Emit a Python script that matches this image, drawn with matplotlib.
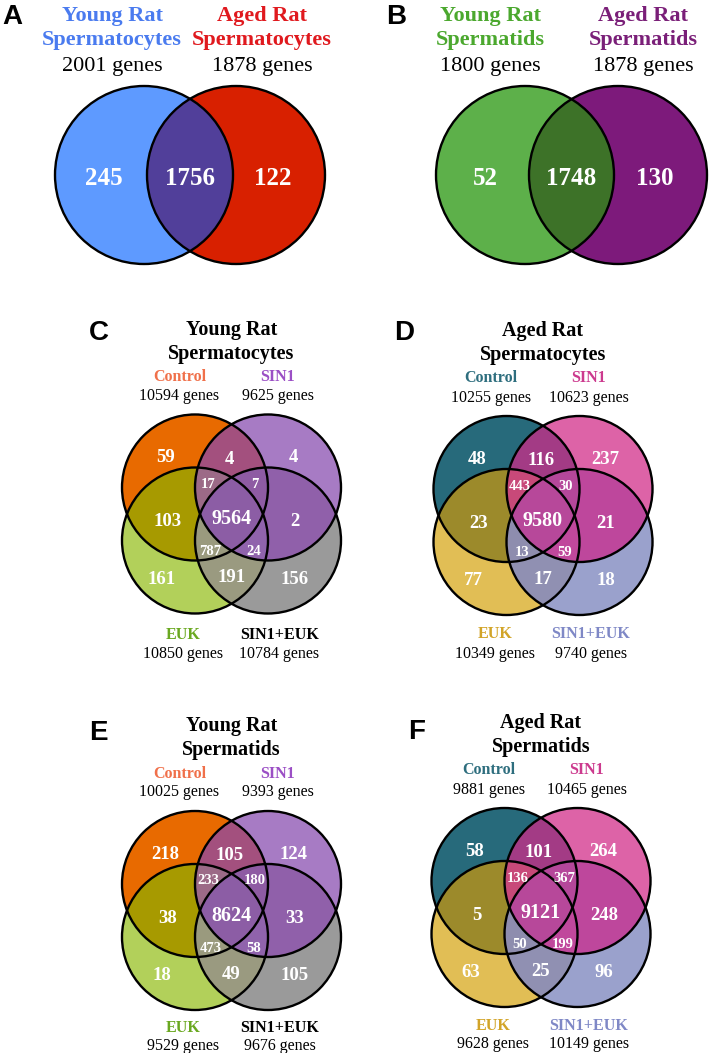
import numpy as np
import matplotlib
matplotlib.use("Agg")
from matplotlib import pyplot as plt
from matplotlib.patches import Circle
from matplotlib.colors import to_rgba

SERIF = ["Liberation Serif", "DejaVu Serif"]
SANS = ["Liberation Sans", "DejaVu Sans"]

### DATA ###
# two-way panels (A, B)
a_titles = ["Young Rat\nSpermatocytes", "Aged Rat\nSpermatocytes"]
a_totals = [2001, 1878]
a_counts = [245, 1756, 122]          # left only, both, right only

b_titles = ["Young Rat\nSpermatids", "Aged Rat\nSpermatids"]
b_totals = [1800, 1878]
b_counts = [52, 1748, 130]

# four-way panels (C-F); region key = bitmask (1 Control, 2 SIN1, 4 EUK, 8 SIN1+EUK)
groups = ["Control", "SIN1", "EUK", "SIN1+EUK"]

c_title = "Young Rat\nSpermatocytes"
c_totals = [10594, 9625, 10850, 10784]
c_counts = {1: 59, 3: 4, 2: 4, 7: 17, 11: 7, 5: 103, 15: 9564, 10: 2,
            13: 787, 14: 24, 4: 161, 12: 191, 8: 156}

d_title = "Aged Rat\nSpermatocytes"
d_totals = [10255, 10623, 10349, 9740]
d_counts = {1: 48, 3: 116, 2: 237, 7: 443, 11: 30, 5: 23, 15: 9580, 10: 21,
            13: 13, 14: 59, 4: 77, 12: 17, 8: 18}

e_title = "Young Rat\nSpermatids"
e_totals = [10025, 9393, 9529, 9676]
e_counts = {1: 218, 3: 105, 2: 124, 7: 233, 11: 180, 5: 38, 15: 8624, 10: 33,
            13: 473, 14: 58, 4: 18, 12: 49, 8: 105}

f_title = "Aged Rat\nSpermatids"
f_totals = [9881, 10465, 9628, 10149]
f_counts = {1: 58, 3: 101, 2: 264, 7: 136, 11: 367, 5: 5, 15: 9121, 10: 248,
            13: 50, 14: 199, 4: 63, 12: 25, 8: 96}

### STYLE ###
young_fill = {1: "#e86a00", 2: "#a87bc5", 4: "#b3d05a", 8: "#9a9a9a",
              3: "#a3507e", 5: "#a89a00", 7: "#9c6b88", 11: "#8e5ba3",
              15: "#8c5da5", 10: "#9060aa", 13: "#9b9a7e", 14: "#9163ac",
              12: "#9a9b80", 6: "#8c5da5", 9: "#8c5da5"}
aged_fill = {1: "#276b7b", 2: "#dd63a8", 4: "#e1be55", 8: "#9aa1cc",
             3: "#a43c86", 5: "#9c8a2b", 7: "#c94979", 11: "#b5479a",
             15: "#b8489a", 10: "#be479c", 13: "#8e8dae", 14: "#c0489c",
             12: "#9090b2", 6: "#b8489a", 9: "#b8489a"}
young_text = ["#f0704a", "#9b4fc5", "#6aa820", "black"]
aged_text = ["#2e6e7e", "#cc3a8e", "#d2a428", "#7f88c6"]

# label offsets from the diagram centre (pixels)
offsets4 = {1: (-66, -58), 3: (-2, -57), 2: (62, -58), 7: (-23, -31), 11: (23, -31),
            5: (-64, 6), 15: (0, 3), 10: (63, 6), 13: (-21, 36), 14: (22, 36),
            4: (-70, 63), 12: (0, 62), 8: (63, 63)}
small_regions = [7, 11, 13, 14]


def paint_regions(ax, centers, r, fills, step=0.25):
    cx = np.array([c[0] for c in centers])
    cy = np.array([c[1] for c in centers])
    x0, x1 = cx.min() - r - 2, cx.max() + r + 2
    y0, y1 = cy.min() - r - 2, cy.max() + r + 2
    X, Y = np.meshgrid(np.arange(x0, x1, step) + step / 2, np.arange(y0, y1, step) + step / 2)
    code = np.zeros(X.shape, dtype=int)
    for i, (px, py) in enumerate(centers):
        code |= (((X - px) ** 2 + (Y - py) ** 2) <= r ** 2).astype(int) << i
    img = np.zeros(X.shape + (4,))
    for k, col in fills.items():
        img[code == k] = to_rgba(col)
    ax.imshow(img, extent=(x0, x1, y1, y0), aspect="auto", interpolation="antialiased", zorder=1)
    for (px, py) in centers:
        ax.add_patch(Circle((px, py), r, fill=False, ec="black", lw=1.7, zorder=3))


def stacked(ax, x, y, text, gap, **kw):
    # one line per text() call, so the line gap matches the reference
    for i, line in enumerate(text.split("\n")):
        ax.text(x, y + i * gap, line, ha="center", va="center_baseline", **kw)


def venn2(ax, letter, letter_xy, centers, r, fills, titles, title_colors, title_x, totals, counts):
    paint_regions(ax, centers, r, fills)
    ax.text(*letter_xy, letter, family=SANS, weight="bold", fontsize=20, ha="center", va="center")
    for t, col, x, n in zip(titles, title_colors, title_x, totals):
        stacked(ax, x, 13, t, 25, family=SERIF, weight="bold", fontsize=16, color=col)
        ax.text(x, 64, f"{n} genes", family=SERIF, fontsize=16, ha="center", va="center_baseline")
    (lx, ly), (rx, ry) = centers
    xs = [lx - 40, (lx + rx) / 2, rx + 37]
    for x, n in zip(xs, counts):
        ax.text(x, ly + 1, str(n), family=SERIF, weight="bold", fontsize=18,
                color="white", ha="center", va="center_baseline")


def venn4(ax, letter, letter_xy, center, title, totals, counts, fills, label_colors, bottom_dy):
    mx, my = center
    dx, dy, r = 36.5, 26.5, 73
    centers = [(mx - dx, my - dy), (mx + dx, my - dy), (mx - dx, my + dy), (mx + dx, my + dy)]
    paint_regions(ax, centers, r, fills)
    ax.text(*letter_xy, letter, family=SANS, weight="bold", fontsize=20, ha="center", va="center")
    stacked(ax, mx, my - 187, title, 24, family=SERIF, weight="bold", fontsize=14.5)
    label_xy = [(-52, -139), (46, -139), (-48, bottom_dy), (48, bottom_dy)]
    for g, n, col, (ox, oy) in zip(groups, totals, label_colors, label_xy):
        ax.text(mx + ox, my + oy, g, family=SERIF, weight="bold", fontsize=11.5,
                color=col, ha="center", va="center_baseline")
        ax.text(mx + ox, my + oy + 19, f"{n} genes", family=SERIF, fontsize=11.5,
                ha="center", va="center_baseline")
    for k, n in counts.items():
        ox, oy = offsets4[k]
        fs = 10.5 if k in small_regions else (14.5 if k == 15 else 13.5)
        ax.text(mx + ox, my + oy, str(n), family=SERIF, weight="bold", fontsize=fs,
                color="white", ha="center", va="center_baseline", zorder=4)


fig = plt.figure(figsize=(7.09, 10.53), dpi=100)
ax = fig.add_axes([0, 0, 1, 1])

venn2(ax, "A", (12, 17), [(144, 175), (236, 175)], 89,
      {1: "#5e9bff", 2: "#d92000", 3: "#523f9a"}, a_titles, ["#4a7bef", "#e0191e"],
      [112, 262], a_totals, a_counts)
venn2(ax, "B", (396, 17), [(525, 175), (618, 175)], 89,
      {1: "#5db14a", 2: "#7d1a7b", 3: "#3d7229"}, b_titles, ["#4ba82e", "#7a1f78"],
      [490, 643], b_totals, b_counts)

venn4(ax, "C", (99, 333), (231.5, 514), c_title, c_totals, c_counts, young_fill, young_text, 119)
venn4(ax, "D", (404, 333), (543, 515.5), d_title, d_totals, d_counts, aged_fill, aged_text, 117)
venn4(ax, "E", (98, 733), (231.5, 910.5), e_title, e_totals, e_counts, young_fill, young_text, 115)
venn4(ax, "F", (417, 732), (541, 907.5), f_title, f_totals, f_counts, aged_fill, aged_text, 116)

ax.set_xlim(0, 709)
ax.set_ylim(1053, 0)
ax.axis("off")
fig.savefig("out.png", dpi=100)
plt.close(fig)
